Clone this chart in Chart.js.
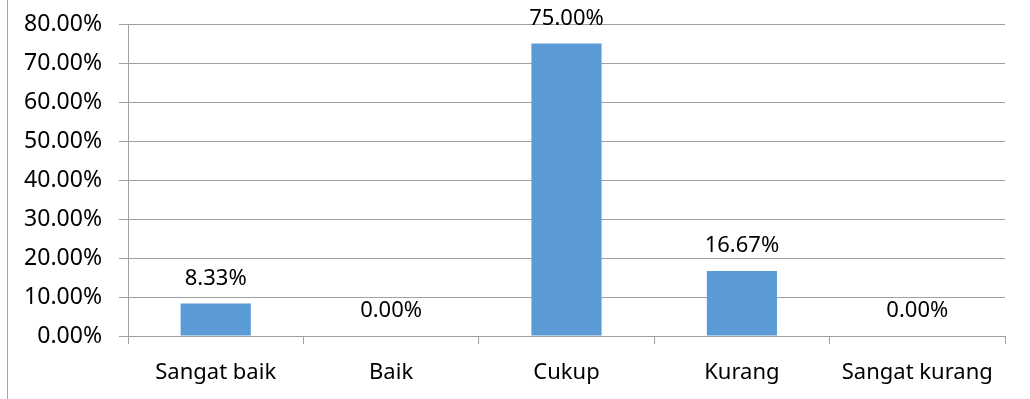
<!DOCTYPE html>
<html>
<head>
<meta charset="utf-8">
<script src="https://cdn.jsdelivr.net/npm/chart.js@4.4.1/dist/chart.umd.min.js"></script>
<style>
  html, body { margin: 0; padding: 0; background: #fff; }
  #wrap { position: relative; width: 1030px; height: 399px; }
  #frame { position: absolute; left: 7px; top: 0; width: 0; height: 399px; border-left: 1px solid #a6a6a6; }
</style>
</head>
<body>
<div id="wrap">
  <div id="frame"></div>
  <canvas id="barChart" width="1030" height="399"></canvas>
</div>
<script>
const categories = ["Sangat baik", "Baik", "Cukup", "Kurang", "Sangat kurang"];
const percentages = [8.33, 0, 75, 16.67, 0];
const yTicks = [0, 10, 20, 30, 40, 50, 60, 70, 80];

const gridColor = "#a0a0a0";
const fontFamily = "'Noto Sans', sans-serif";

// labels drawn above each bar, like the excel data labels
const valueLabels = {
  id: "valueLabels",
  afterDatasetsDraw(chart) {
    const ctx = chart.ctx;
    const meta = chart.getDatasetMeta(0);
    ctx.save();
    ctx.font = "22px " + fontFamily;
    ctx.fillStyle = "#000";
    ctx.textAlign = "center";
    ctx.textBaseline = "alphabetic";
    meta.data.forEach((bar, i) => {
      ctx.fillText(percentages[i].toFixed(2) + "%", bar.x, bar.y - 19);
    });
    ctx.restore();
  },
};

const canvas = document.getElementById("barChart");

const barChart = new Chart(canvas, {
  type: "bar",
  data: {
    labels: categories,
    datasets: [
      {
        data: percentages,
        backgroundColor: "#5b9bd5",
        barPercentage: 0.4,
        categoryPercentage: 1,
      },
    ],
  },
  options: {
    responsive: false,
    animation: false,
    layout: { padding: { top: 24, right: 25, left: 0, bottom: 0 } },
    plugins: {
      legend: { display: false },
      tooltip: { enabled: false },
    },
    scales: {
      x: {
        grid: {
          offset: true,
          drawOnChartArea: false,
          drawTicks: true,
          tickLength: 8,
          color: gridColor,
        },
        border: { color: gridColor, width: 1 },
        ticks: {
          color: "#000",
          padding: 16,
          font: { family: fontFamily, size: 22 },
        },
        afterFit(scale) {
          scale.height = 63;
          scale.paddingLeft = 0;
          scale.paddingRight = 0;
        },
      },
      y: {
        min: 0,
        max: 80,
        afterBuildTicks(scale) {
          scale.ticks = yTicks.map((v) => ({ value: v }));
        },
        grid: {
          color: gridColor,
          drawTicks: true,
          tickLength: 9,
        },
        border: { color: gridColor, width: 1 },
        ticks: {
          color: "#000",
          padding: 17,
          font: { family: fontFamily, size: 23 },
          callback: (v) => v.toFixed(2) + "%",
        },
        afterFit(scale) {
          scale.width = 128;
          scale.paddingTop = 0;
          scale.paddingBottom = 0;
        },
      },
    },
  },
  plugins: [valueLabels],
});
</script>
</body>
</html>
